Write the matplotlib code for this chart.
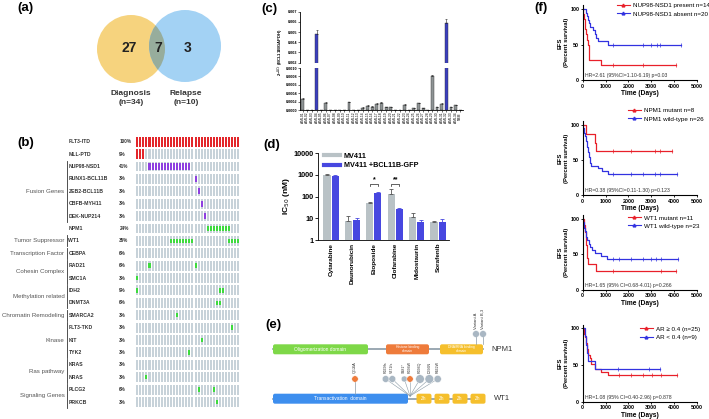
import numpy as np
import matplotlib.pyplot as plt
from matplotlib.patches import Circle, FancyBboxPatch
from matplotlib.lines import Line2D
from matplotlib.transforms import blended_transform_factory

plt.rcParams['font.family'] = ['Liberation Sans', 'DejaVu Sans']
plt.rcParams['axes.linewidth'] = 0.6

# ---------------- data ----------------
# (a) overlap of mutated genes
venn_counts = [27, 7, 3]
venn_names = ['Diagnosis\n(n=34)', 'Relapse\n(n=10)']

# (b) mutation landscape, 34 patients
genes = ['FLT3-ITD', 'MLL-PTD', 'NUP98-NSD1', 'RUNX1-BCL11B', 'ZEB2-BCL11B', 'CBFB-MYH11',
         'DEK-NUP214', 'NPM1', 'WT1', 'CEBPA', 'RAD21', 'SMC1A', 'IDH2', 'DNMT3A', 'SMARCA2',
         'FLT3-TKD', 'KIT', 'TYK2', 'KRAS', 'NRAS', 'PLCG2', 'PRKCB']
gene_pct = ['100%', '9%', '41%', '3%', '3%', '3%', '3%', '24%', '35%', '6%', '6%', '3%',
            '9%', '6%', '3%', '3%', '3%', '3%', '3%', '3%', '6%', '3%']
mut_patients = [list(range(34)), [0, 1, 2], list(range(4, 18)), [19], [20], [21], [22],
                list(range(23, 31)), list(range(11, 19)) + [30, 31, 32, 33], [], [4, 19], [0],
                [0, 27, 28], [26, 27], [13], [31], [21], [17], [], [3], [20, 25], [26]]
mut_kind = ['itd'] * 2 + ['fusion'] * 5 + ['snv'] * 15
gene_groups = ['Fusion Genes', 'Tumor Suppressor', 'Transcription Factor', 'Cohesin Complex',
               'Methylation related', 'Chromatin Remodeling', 'Kinase', 'Ras pathway',
               'Signaling Genes']
group_first = [2, 8, 9, 10, 12, 14, 15, 18, 20]
group_last = [6, 8, 9, 11, 13, 14, 17, 19, 21]

# (c) BCL11B expression
c_samples = ['AML%02d' % (i + 1) for i in range(34)] + ['NBM']
c_vals = [0.00026, 0, 0, 0.0048, 0, 0.00017, 0, 0, 0, 0, 0.00018, 0, 0.00001, 0.00005,
          0.0001, 0.00008, 0.00015, 0.00017, 0.00006, 0.00007, 0.00001, 0, 0.00013, 0,
          0.00004, 0.00016, 0.00004, 0, 0.0008, 0.00007, 0.00015, 0.0059, 0.00006, 0.00012, 0]
c_err = [0.00002, 0, 0, 0.0004, 0, 0.00002, 0, 0, 0, 0, 0.00002, 0, 0, 0.00001,
         0.00001, 0.00001, 0.00001, 0.00002, 0.00001, 0.00001, 0, 0, 0.00001, 0,
         0.00001, 0.00001, 0.00001, 0, 0.00004, 0.00001, 0.00001, 0.0004, 0.00001, 0.00001, 0]
c_high = [3, 31]

# (d) drug sensitivity
drugs = ['Cytarabine', 'Daunorubicin', 'Etoposide', 'Clofarabine', 'Midostaurin', 'Sorafenib']
ic50_mv411 = [1000, 7.8, 52, 133, 11, 6.5]
ic50_mv411_err = [80, 5, 3, 85, 6, 1.3]
ic50_bcl11b = [900, 8.4, 150, 26, 6.8, 7.0]
ic50_bcl11b_err = [40, 2.3, 12, 5, 1.6, 2.3]
sig_drugs = [2, 3]
sig_marks = ['*', '**']

# (e) protein schematic
npm1_domains = ['Oligomerization domain', 'Histone binding\ndomain', 'DNA/RNA binding\ndomain']
npm1_variants = ['Variant A', 'Variant B,3']
wt1_mutations = ['R369fs', 'V371fs', 'S381*', 'R394W', 'R394Q', 'D396N', 'R462W']
wt1_mut_orange = [False, False, False, True, False, False, False]
wt1_single = 'Q$_{124}$A'

# (f) event free survival
km_legends = [['NUP98-NSD1 present n=14', 'NUP98-NSD1 absent n=20'],
              ['NPM1 mutant n=8', 'NPM1 wild-type n=26'],
              ['WT1 mutant n=11', 'WT1 wild-type n=23'],
              ['AR \u2265 0.4 (n=25)', 'AR < 0.4 (n=9)']]
km_hr = ['HR=2.61 (95%CI=1.10-6.19) p=0.03',
         'HR=0.38 (95%CI=0.11-1.30) p=0.123',
         'HR=1.65 (95% CI=0.68-4.01) p=0.266',
         'HR=1.08 (95% CI=0.40-2.96) p=0.878']
nup_pres_t = [0, 30, 60, 100, 150, 190, 230, 260, 290, 800, 4100]
nup_pres_s = [100, 92.9, 85.7, 71.4, 64.3, 57.1, 50.0, 35.7, 28.6, 21.4, 21.4]
nup_pres_c = [1350, 2650, 4100]
nup_abs_t = [0, 130, 170, 220, 280, 340, 430, 520, 600, 680, 1100, 4300]
nup_abs_s = [100, 95, 90, 85, 80, 75, 70, 65, 60, 55, 50, 50]
nup_abs_c = [1350, 2650, 3000, 3250, 3400, 4300]
npm_mut_t = [0, 150, 550, 580, 3900]
npm_mut_s = [100, 87.5, 75, 62.5, 62.5]
npm_mut_c = [1350, 2100, 3150, 3400, 3900]
npm_wt_t = [0, 20, 50, 90, 140, 180, 220, 260, 300, 380, 650, 850, 1100, 4150]
npm_wt_s = [100, 96.2, 88.5, 84.6, 76.9, 69.2, 61.5, 53.8, 46.2, 42.3, 38.5, 34.6, 30.8, 30.8]
npm_wt_c = [1350, 2100, 2650, 3150, 3400, 4150]
wt1_mut_t = [0, 40, 90, 140, 200, 240, 590, 4100]
wt1_mut_s = [100, 90.9, 81.8, 63.6, 45.5, 36.4, 27.3, 27.3]
wt1_mut_c = [1350, 3450, 4100]
wt1_wt_t = [0, 30, 70, 110, 150, 200, 260, 320, 400, 520, 800, 1050, 4200]
wt1_wt_s = [100, 95.7, 87.0, 82.6, 73.9, 69.6, 65.2, 60.9, 56.5, 52.2, 47.8, 43.5, 43.5]
wt1_wt_c = [1350, 1600, 2100, 2650, 3000, 3200, 3450, 4200]
ar_hi_t = [0, 40, 90, 140, 190, 240, 300, 350, 560, 800, 1100, 4150]
ar_hi_s = [100, 92, 88, 80, 72, 64, 60, 52, 44, 40, 36, 36]
ar_hi_c = [1600, 2100, 2650, 3050, 3450, 4150]
ar_lo_t = [0, 90, 150, 200, 250, 560, 3400]
ar_lo_s = [100, 88.9, 77.8, 66.7, 55.6, 44.4, 44.4]
ar_lo_c = [1550, 2900, 3400]

# ---------------- figure ----------------
W, H = 709, 419
fig = plt.figure(figsize=(W / 100, H / 100), dpi=100)


def px_axes(x, y, w, h):
    return fig.add_axes([x / W, 1 - (y + h) / H, w / W, h / H])


ov = px_axes(0, 0, W, H)
ov.set_xlim(0, W)
ov.set_ylim(H, 0)
ov.axis('off')

for lab, (x, y) in zip(['(a)', '(b)', '(c)', '(d)', '(e)', '(f)'],
                       [(17, 8), (17, 143), (261, 9), (263, 145), (265, 325), (534, 8)]):
    ov.text(x, y, lab, fontsize=9.5, fontweight='bold', va='center', ha='left')

# (a) venn
yellow = Circle((131, 49), 34, color='#F6D37E', lw=0)
blue = Circle((185, 46), 36, color='#A3D2F4', lw=0)
ov.add_patch(yellow)
ov.add_patch(blue)
mid = Circle((185, 46), 36, color='#97AD9C', lw=0)
ov.add_patch(mid)
mid.set_clip_path(yellow)
for val, x in zip(venn_counts, [128.7, 158, 187.5]):
    ov.text(x, 48, str(val), fontsize=10, fontweight='bold', ha='center', va='center', color='#222')
for name, x in zip(venn_names, [131, 186]):
    ov.text(x, 98, name, fontsize=6, fontweight='bold', ha='center', va='center',
            color='#333', linespacing=1.25)

# (b) oncoprint
ax_b = px_axes(135.7, 135.5, 104.3, 272.7)
ax_b.set_xlim(0, 34)
ax_b.set_ylim(len(genes) - 0.5, -0.5)
ax_b.axis('off')
kind_col = {'itd': '#E3262B', 'fusion': '#8E3FE0', 'snv': '#3DDB3D'}
kind_h = {'itd': 0.8, 'fusion': 0.5, 'snv': 0.36}
pat = np.arange(34)
for r in range(len(genes)):
    ax_b.bar(pat + 0.5, 0.8, bottom=r - 0.4, width=0.66, color='#C7D2D9', lw=0)
    hit = np.array(mut_patients[r], dtype=float)
    if len(hit):
        k = mut_kind[r]
        ax_b.bar(hit + 0.5, kind_h[k], bottom=r - kind_h[k] / 2, width=0.66,
                 color=kind_col[k], lw=0)
bt = blended_transform_factory(ov.transData, ax_b.transData)
for r, (g, p) in enumerate(zip(genes, gene_pct)):
    ov.text(68.5, r, g, transform=bt, fontsize=3.7, fontweight='bold', va='center', color='#333')
    ov.text(119.3, r, p, transform=bt, fontsize=3.3, fontweight='bold', va='center', color='#333')
for name, r0, r1 in zip(gene_groups, group_first, group_last):
    ov.plot([66.7, 66.7], [r0 - 0.45, r1 + 0.45], transform=bt, color='#333', lw=0.6)
    ov.text(64.5, (r0 + r1) / 2, name, transform=bt, fontsize=4.4, ha='right',
            va='center', color='#555')

# (c) BCL11B expression with broken axis
c_x = np.arange(len(c_vals))
c_colors = ['#3B3FBF' if i in c_high else '#8E9495' for i in c_x]
ax_cu = px_axes(300, 11.7, 163, 51)
ax_cl = px_axes(300, 68, 163, 42)
for ax in (ax_cu, ax_cl):
    ax.bar(c_x, c_vals, width=0.62, color=c_colors, edgecolor='#333', lw=0.3,
           yerr=[np.zeros(len(c_err)), c_err],
           error_kw=dict(lw=0.4, capsize=0.8, capthick=0.4, ecolor='#222'))
    ax.set_xlim(-0.58, 34.6)
    ax.spines[['top', 'right']].set_visible(False)
    ax.tick_params(labelsize=2.7, length=1.2, width=0.4, pad=0.8)
ax_cu.set_ylim(0.002, 0.007)
ax_cu.spines['bottom'].set_visible(False)
ax_cu.set_xticks([])
ax_cu.set_yticks([0.002, 0.003, 0.004, 0.005, 0.006, 0.007])
ax_cu.set_yticklabels(['0.002', '0.003', '0.004', '0.005', '0.006', '0.007'], fontweight='bold')
ax_cl.set_ylim(0, 0.001)
ax_cl.set_yticks([0, 0.0002, 0.0004, 0.0006, 0.0008, 0.0010])
ax_cl.set_yticklabels(['0.0000', '0.0002', '0.0004', '0.0006', '0.0008', '0.0010'], fontweight='bold')
ax_cl.set_xticks(c_x)
ax_cl.set_xticklabels(c_samples, rotation=90, fontsize=2.4)
ov.text(281, 52, '2$^{-\\Delta Ct}$ (BCL11B/GAPDH)', rotation=90, fontsize=3,
        ha='center', va='center', fontweight='bold')

# (d) IC50
ax_d = px_axes(318, 153, 131, 87)
xd = np.arange(len(drugs))
ax_d.set_yscale('log')
ax_d.bar(xd - 0.19, ic50_mv411, 0.33, color='#B9C2C6', lw=0,
         yerr=[np.zeros(len(drugs)), ic50_mv411_err],
         error_kw=dict(lw=0.6, capsize=1.2, capthick=0.6, ecolor='#555'))
ax_d.bar(xd + 0.19, ic50_bcl11b, 0.33, color='#4747E0', lw=0,
         yerr=[np.zeros(len(drugs)), ic50_bcl11b_err],
         error_kw=dict(lw=0.6, capsize=1.2, capthick=0.6, ecolor='#4747E0'))
ax_d.set_ylim(1, 10000)
ax_d.set_xlim(-0.61, 5.51)
ax_d.spines[['top', 'right']].set_visible(False)
ax_d.set_yticks([1, 10, 100, 1000, 10000])
ax_d.set_yticklabels(['1', '10', '100', '1000', '10000'], fontsize=5.2, fontweight='bold')
ax_d.tick_params(axis='y', which='major', length=2, width=0.6, pad=1)
ax_d.tick_params(axis='y', which='minor', length=1, width=0.4)
ax_d.set_xticks(xd)
ax_d.set_xticklabels(drugs, rotation=90, fontsize=4.6, fontweight='bold')
ax_d.tick_params(axis='x', length=0, pad=2)
ax_d.set_ylabel('IC$_{50}$ (nM)', fontsize=6, fontweight='bold', labelpad=1)
for i, m in zip(sig_drugs, sig_marks):
    ax_d.plot([i - 0.19, i - 0.19, i + 0.19, i + 0.19], [300, 380, 380, 300], color='#222', lw=0.5)
    ax_d.text(i, 420, m, ha='center', va='bottom', fontsize=5, fontweight='bold')
d_handles = [Line2D([], [], color='#B9C2C6', lw=3), Line2D([], [], color='#4747E0', lw=3)]
fig.legend(d_handles, ['MV411', 'MV411 +BCL11B-GFP'], loc='upper left',
           bbox_to_anchor=(320 / W, 1 - 149 / H), frameon=False,
           handlelength=2.2, handletextpad=0.6, labelspacing=0.35, borderpad=0,
           prop=dict(weight='bold', size=5.2))

# (e) protein schematic
def dom_box(x0, x1, yc, color, text, size=3.3):
    ov.add_patch(FancyBboxPatch((x0, yc - 5), x1 - x0, 10,
                                boxstyle='round,pad=0,rounding_size=2', fc=color, ec='none'))
    ov.text((x0 + x1) / 2, yc, text, fontsize=size, color='white', ha='center',
            va='center', linespacing=0.9)


ov.plot([273, 483], [349.3, 349.3], color='#8A9AA6', lw=1.2, zorder=0)
for (x0, x1), col, txt in zip([(273, 368), (386, 429), (440, 483)],
                              ['#7ED848', '#EE7B3B', '#F5BF2C'], npm1_domains):
    dom_box(x0, x1, 349.3, col, txt, 3.5 if '\n' not in txt else 2.4)
ov.text(491, 349.3, 'NPM1', fontsize=5.5, va='center', color='#333')
for x, txt in zip([476, 483], npm1_variants):
    ov.plot([x, x], [337, 344], color='#8A9AA6', lw=0.5)
    ov.add_patch(Circle((x, 334), 3.4, fc='#A9B7C3', ec='white', lw=0.3))
    ov.text(x, 329, txt, rotation=90, fontsize=3, ha='center', va='bottom', color='#333')

ov.plot([273, 483], [398.7, 398.7], color='#8A9AA6', lw=1.2, zorder=0)
dom_box(273, 408, 398.7, '#3D8EEE', 'Transactivation  domain', 3.5)
for xc in [424, 442, 460, 478]:
    dom_box(xc - 7.5, xc + 7.5, 398.7, '#F5BF2C', 'Zn', 3.3)
ov.text(494, 398.7, 'WT1', fontsize=5.5, va='center', color='#333')
ov.plot([355, 355], [382, 393.7], color='#8A9AA6', lw=0.5)
ov.add_patch(Circle((355, 379), 3.2, fc='#EE7B3B', ec='white', lw=0.3))
ov.text(355, 374, wt1_single, rotation=90, fontsize=3, ha='center', va='bottom', color='#333')
for x, txt, orange, rad in zip([385.7, 392.3, 404.3, 410, 420, 429.3, 437.7], wt1_mutations,
                               wt1_mut_orange, [3.4, 3.4, 3.0, 3.2, 4.3, 4.3, 3.6]):
    ov.plot([x, 410], [379, 396], color='#8A9AA6', lw=0.4, zorder=1)
    ov.add_patch(Circle((x, 379), rad, fc='#EE7B3B' if orange else '#A9B7C3', ec='white',
                        lw=0.3, zorder=2))
    ov.text(x, 373, txt, rotation=90, fontsize=2.6, ha='center', va='bottom', color='#333')

# (f) Kaplan-Meier panels
RED, BLUE = '#E8202A', '#3232E0'
km_sets = [[(nup_pres_t, nup_pres_s, nup_pres_c, RED), (nup_abs_t, nup_abs_s, nup_abs_c, BLUE)],
           [(npm_mut_t, npm_mut_s, npm_mut_c, RED), (npm_wt_t, npm_wt_s, npm_wt_c, BLUE)],
           [(wt1_mut_t, wt1_mut_s, wt1_mut_c, RED), (wt1_wt_t, wt1_wt_s, wt1_wt_c, BLUE)],
           [(ar_hi_t, ar_hi_s, ar_hi_c, RED), (ar_lo_t, ar_lo_s, ar_lo_c, BLUE)]]
km_rows = [(9.0, 80.3), (125, 195.3), (218.7, 290), (328.3, 401.7)]
km_leg_pos = [(614, 0), (625, 105), (625, 212), (637, 323)]

for curves, (y100, y0), labels, hr, (lx, ly) in zip(km_sets, km_rows, km_legends, km_hr, km_leg_pos):
    hpx = (y0 - y100) * 1.05
    ax = px_axes(582.7, y0 - hpx, 114, hpx)
    for t, s, cens, col in curves:
        ax.step(t, s, where='post', color=col, lw=0.9)
        idx = np.searchsorted(t, cens, side='right') - 1
        ax.plot(cens, np.array(s)[idx], '|', color=col, ms=2.2, mew=0.5)
    ax.set_xlim(0, 5000)
    ax.set_ylim(0, 105)
    ax.spines[['top', 'right']].set_visible(False)
    ax.spines[['left', 'bottom']].set_linewidth(0.8)
    ax.set_xticks([0, 1000, 2000, 3000, 4000, 5000])
    ax.set_yticks([0, 50, 100])
    ax.tick_params(labelsize=3.9, length=1.5, width=0.6, pad=1)
    for t in ax.get_xticklabels() + ax.get_yticklabels():
        t.set_fontweight('bold')
    ax.set_xlabel('Time (Days)', fontsize=4.8, fontweight='bold', labelpad=1)
    ax.set_ylabel('EFS\n(Percent survival)', fontsize=4.2, fontweight='bold', labelpad=1,
                  linespacing=1.4)
    ax.text(0.02, 0.04, hr, transform=ax.transAxes, fontsize=3.7, color='#333')
    handles = [Line2D([], [], color=c[3], lw=0.8, marker='^', ms=2) for c in curves]
    fig.legend(handles, labels, loc='upper left', bbox_to_anchor=(lx / W, 1 - ly / H),
               frameon=False, fontsize=4.5, handlelength=2.0, handletextpad=0.6,
               labelspacing=0.45, borderpad=0)

fig.savefig('out.png', dpi=100)
